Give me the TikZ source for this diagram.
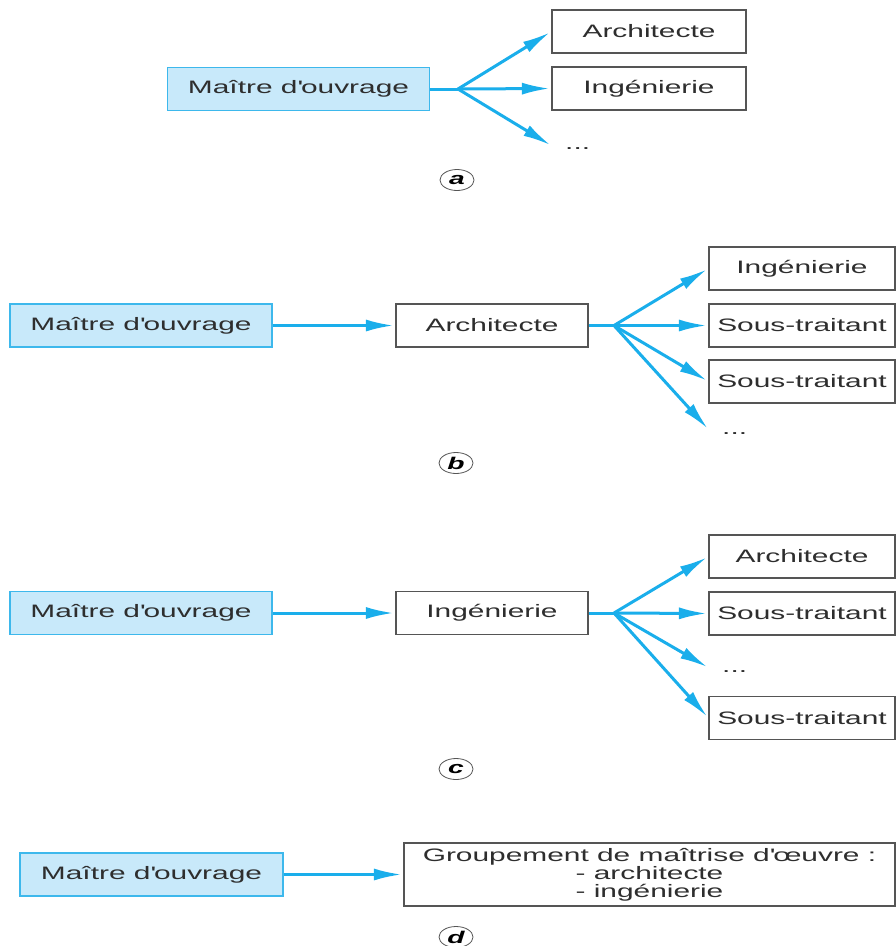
\documentclass[tikz,border=0pt]{standalone}
\usepackage{fontspec}
\setmainfont[FakeStretch=1.66]{Liberation Sans}
\usetikzlibrary{arrows.meta,shapes.geometric}
\definecolor{cyanline}{HTML}{1AAEEB}
\definecolor{bluefill}{HTML}{C8E9FA}
\definecolor{blueborder}{HTML}{3DB8EC}
\definecolor{boxline}{HTML}{555555}
\definecolor{txt}{HTML}{2E2E2E}
\newcommand{\apo}{\textquotesingle}
\begin{document}
\begin{tikzpicture}[x=1pt,y=-1pt,
  every node/.style={text=txt,font=\fontsize{18}{20}\selectfont},
  mo/.style={draw=blueborder,fill=bluefill,line width=1.6pt,minimum width=262pt,minimum height=43pt,inner sep=0pt},
  bx/.style={draw=boxline,fill=white,line width=1.1pt,minimum height=43pt,inner sep=0pt},
  rbx/.style={bx,minimum width=186pt},
  ln/.style={cyanline,line width=3pt},
  arr/.style={cyanline,line width=3pt,-{Latex[length=28pt,width=12pt]},shorten >=1.5pt},
  lab/.style={ellipse,draw=boxline,line width=0.8pt,fill=white,minimum width=34pt,minimum height=21pt,inner sep=0pt,font=\fontsize{17}{18}\selectfont\bfseries\itshape,text=black},
  dots/.style={anchor=base west,inner sep=0pt}
]
\useasboundingbox (0,0) rectangle (896,946);

% ---------- a ----------
\node[mo] (ma) at (298.5,89) {Maître d\apo ouvrage};
\node[bx,minimum width=194pt] (aa) at (649,31.5) {Architecte};
\node[bx,minimum width=194pt] (ai) at (649,88.5) {Ingénierie};
\coordinate (ja) at (458,89);
\coordinate (ta) at (552,146);
\node[dots] (ad) at (565,149) {...};
\draw[ln] (ma.east) -- (ja);
\draw[arr] (ja) -- (aa.west);
\draw[arr] (ja) -- (ai.west);
\draw[arr] (ja) -- (ta);
\node[lab] (la) at (457,180) {a};

% ---------- b ----------
\node[mo] (mb) at (141,325.5) {Maître d\apo ouvrage};
\node[bx,minimum width=192pt] (bb) at (492,325.5) {Architecte};
\coordinate (jb) at (614,325.5);
\node[rbx] (bi) at (802,268.5) {Ingénierie};
\node[rbx] (bs1) at (802,325.5) {Sous-traitant};
\node[rbx] (bs2) at (802,381.5) {Sous-traitant};
\coordinate (tb) at (709,430);
\node[dots] (bd) at (722,434) {...};
\draw[arr] (mb.east) -- (bb.west);
\draw[ln] (bb.east) -- (jb);
\draw[arr] (jb) -- (bi.west);
\draw[arr] (jb) -- (bs1.west);
\draw[arr] (jb) -- (bs2.west);
\draw[arr] (jb) -- (tb);
\node[lab] (lb) at (456,463) {b};

% ---------- c ----------
\node[mo] (mc) at (141,613) {Maître d\apo ouvrage};
\node[bx,minimum width=192pt] (cb) at (492,613) {Ingénierie};
\coordinate (jc) at (614,613);
\node[rbx] (ca) at (802,556.5) {Architecte};
\node[rbx] (cs1) at (802,613.5) {Sous-traitant};
\coordinate (tc) at (709,668);
\node[dots] (cd) at (722,672) {...};
\node[rbx] (cs2) at (802,718) {Sous-traitant};
\draw[arr] (mc.east) -- (cb.west);
\draw[ln] (cb.east) -- (jc);
\draw[arr] (jc) -- (ca.west);
\draw[arr] (jc) -- (cs1.west);
\draw[arr] (jc) -- (tc);
\draw[arr] (jc) -- (cs2.west);
\node[lab] (lc) at (456,769) {c};

% ---------- d ----------
\node[mo,minimum width=263pt] (md) at (151.5,874.5) {Maître d\apo ouvrage};
\node[bx,minimum width=491pt,minimum height=63pt,align=center,font=\fontsize{18}{18}\selectfont] (gd) at (649.5,874.5)
  {Groupement de maîtrise d\apo œuvre :\\- architecte\\- ingénierie};
\draw[arr] (md.east) -- (gd.west);
\node[lab] (ld) at (456,937) {d};
\end{tikzpicture}
\end{document}
